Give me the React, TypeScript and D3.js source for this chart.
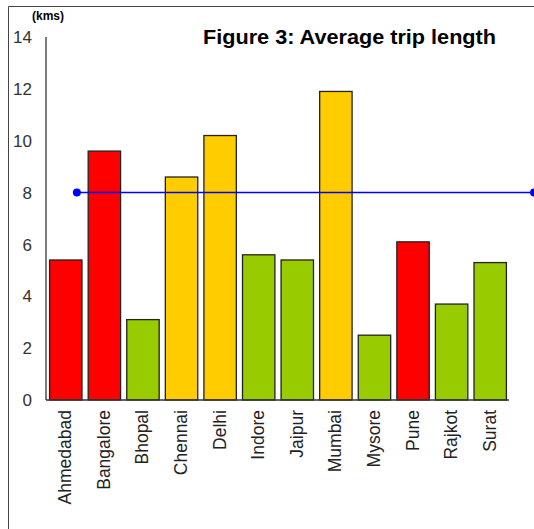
import * as d3 from 'd3';

// Data
const CITIES = ["Ahmedabad", "Bangalore", "Bhopal", "Chennai", "Delhi", "Indore", "Jaipur", "Mumbai", "Mysore", "Pune", "Rajkot", "Surat"];
const TRIP_KMS = [5.4, 9.6, 3.1, 8.6, 10.2, 5.6, 5.4, 11.9, 2.5, 6.1, 3.7, 5.3];
const CITY_GROUP = ["red", "red", "green", "yellow", "yellow", "green", "green", "yellow", "green", "red", "green", "green"];
const Y_TICKS = [0, 2, 4, 6, 8, 10, 12, 14];
// average line: value and its endpoints in category units
const AVG_VALUE = 8;
const AVG_SPAN = [0.8, 12.65];

const GROUP_COLOR: Record<string, string> = {
  red: "#FF0000",
  yellow: "#FFCC00",
  green: "#99CC00",
};

const W = 534;
const H = 529;
const FONT = "'Liberation Sans', Arial, sans-serif";

export default function App() {
  const left = 46, right = 509, top = 37, bottom = 400;

  const x = d3.scaleBand<string>().domain(CITIES).range([left, right]).paddingInner(0.16).paddingOuter(0.08);
  const xIdx = d3.scaleLinear().domain([0, CITIES.length]).range([left, right]);
  const y = d3.scaleLinear().domain([0, 14]).range([bottom, top]);

  return (
    <svg width={W} height={H} style={{ position: 'absolute', left: 0, top: 0, background: '#fff' }} fontFamily={FONT}>
      <rect x={0} y={0} width={W} height={H} fill="#fff" />
      {/* frame */}
      <line x1={8.5} y1={6.5} x2={W} y2={6.5} stroke="#444" />
      <line x1={8.5} y1={6.5} x2={8.5} y2={H} stroke="#444" />

      <text x={203} y={44} fontSize={21} fontWeight="bold" fill="#000"
        textLength={293} lengthAdjust="spacingAndGlyphs">
        Figure 3: Average trip length
      </text>
      <text x={48} y={20} textAnchor="middle" fontSize={12} fontWeight="bold" fill="#000">(kms)</text>

      {/* y labels */}
      {Y_TICKS.map(t => (
        <text key={t} x={32} y={y(t)} dy="0.36em" textAnchor="end" fontSize={17} fill="#333">{t}</text>
      ))}

      {/* bars */}
      {CITIES.map((c, i) => (
        <rect key={c}
          x={x(c)! + 0.5} y={y(TRIP_KMS[i])}
          width={x.bandwidth()} height={y(0) - y(TRIP_KMS[i])}
          fill={GROUP_COLOR[CITY_GROUP[i]]} stroke="#222" strokeWidth={1.3} />
      ))}

      {/* axes */}
      <line x1={left} y1={top} x2={left} y2={bottom} stroke="#333" strokeWidth={1.3} />
      <line x1={left} y1={bottom} x2={right} y2={bottom} stroke="#333" strokeWidth={1.3} />

      {/* x labels */}
      {CITIES.map(c => {
        const cx = x(c)! + x.bandwidth() / 2;
        return (
          <text key={c} transform={`translate(${cx + 6},${bottom + 10}) rotate(-90)`}
            textAnchor="end" fontSize={17.5} fill="#222">{c}</text>
        );
      })}

      {/* average line */}
      <line x1={xIdx(AVG_SPAN[0])} y1={y(AVG_VALUE)} x2={xIdx(AVG_SPAN[1])} y2={y(AVG_VALUE)} stroke="#0000FF" strokeWidth={1.5} />
      {AVG_SPAN.map((s, i) => (
        <circle key={i} cx={xIdx(s)} cy={y(AVG_VALUE)} r={4} fill="#0000FF" />
      ))}
    </svg>
  );
}
